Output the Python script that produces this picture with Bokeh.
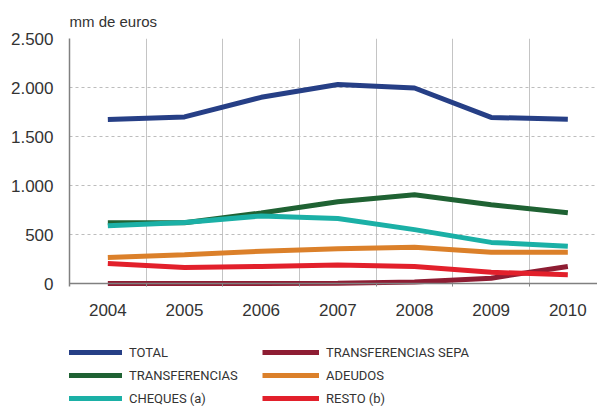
from bokeh.plotting import figure
from bokeh.layouts import column
from bokeh.models import (Range1d, FixedTicker, Legend, LegendItem, Span)
from bokeh.embed import file_html
from bokeh.resources import INLINE

years = [2004, 2005, 2006, 2007, 2008, 2009, 2010]
total = [1673, 1700, 1900, 2030, 1995, 1695, 1675]
transferencias = [620, 620, 720, 835, 905, 805, 722]
cheques = [590, 622, 690, 663, 550, 420, 380]
sepa = [0, 0, 0, 2, 15, 55, 175]
adeudos = [265, 295, 330, 355, 370, 320, 320]
resto = [205, 165, 175, 190, 175, 115, 90]
y_ticks = [0, 500, 1000, 1500, 2000, 2500]
y_tick_labels = ["0", "500", "1.000", "1.500", "2.000", "2.500"]
boundaries = [2004.5, 2005.5, 2006.5, 2007.5, 2008.5, 2009.5]

series = [
    ("TOTAL", total, "#263f86"),
    ("TRANSFERENCIAS", transferencias, "#1f6233"),
    ("CHEQUES (a)", cheques, "#1bb0a6"),
    ("TRANSFERENCIAS SEPA", sepa, "#8e1d33"),
    ("ADEUDOS", adeudos, "#db802a"),
    ("RESTO (b)", resto, "#e2202b"),
]

FONT = "Liberation Sans"
LFONT = "Roboto"

p = figure(width=597, height=340, output_backend="svg", toolbar_location=None,
           x_range=Range1d(2003.5, 2010.387), y_range=Range1d(-30, 2500),
           min_border_left=69, min_border_right=0, min_border_top=38,
           min_border_bottom=54,
           title="mm de euros")
p.outline_line_color = None
p.background_fill_color = "white"
p.border_fill_color = "white"

p.title.align = "left"
p.title.text_font = FONT
p.title.text_font_size = "15px"
p.title.text_font_style = "normal"
p.title.text_color = "#333333"
p.title.standoff = 17
p.title.offset = 0

# x axis
xa = p.xaxis[0]
xa.ticker = FixedTicker(ticks=years, minor_ticks=boundaries)
xa.axis_line_color = None
xa.major_tick_line_color = None
xa.minor_tick_line_color = "#888888"
xa.minor_tick_in = 3
xa.minor_tick_out = 0
xa.major_label_standoff = 11
xa.major_label_text_font = FONT
xa.major_label_text_font_size = "17px"
xa.major_label_text_color = "#333333"

# y axis
ya = p.yaxis[0]
ya.ticker = FixedTicker(ticks=y_ticks)
ya.major_label_overrides = {t: l for t, l in zip(y_ticks, y_tick_labels)}
ya.axis_line_color = "#808080"
ya.axis_line_width = 1.5
ya.major_tick_line_color = None
ya.minor_tick_line_color = None
ya.major_tick_out = 0
ya.major_tick_in = 0
ya.major_label_standoff = 16
ya.major_label_text_font = FONT
ya.major_label_text_font_size = "17px"
ya.major_label_text_color = "#333333"

# grids
p.xgrid.ticker = FixedTicker(ticks=boundaries)
p.xgrid.grid_line_color = "#c4c4c4"
p.xgrid.grid_line_width = 1
p.ygrid.ticker = FixedTicker(ticks=[500, 1000, 1500, 2000, 2500])
p.ygrid.grid_line_color = "#bdbdbd"
p.ygrid.grid_line_dash = "3 3"
p.ygrid.grid_line_width = 1

p.add_layout(Span(location=0, dimension="width", line_color="#808080", line_width=1.5))

for name, vals, color in series:
    p.line(years, vals, line_color=color, line_width=5)

# legend figure (swatches only; no visible data)
lf = figure(width=597, height=66, output_backend="svg", toolbar_location=None,
            x_range=Range1d(0, 597), y_range=Range1d(0, 66),
            x_axis_location=None, y_axis_location=None,
            min_border=0, min_border_left=0, min_border_right=0,
            min_border_top=0, min_border_bottom=0)
lf.grid.visible = False
lf.outline_line_color = None
lf.border_fill_color = "white"

nan = float("nan")
swatch = {}
for name, vals, color in series:
    swatch[name] = lf.line([nan], [nan], line_color=color, line_width=5)

def make_legend(names, x):
    lg = Legend(items=[LegendItem(label=n, renderers=[swatch[n]]) for n in names],
                location=(x, 0), orientation="vertical",
                glyph_width=57, glyph_height=16, label_height=16, label_width=10,
                label_standoff=7, spacing=7, padding=0, margin=0,
                border_line_color=None, background_fill_alpha=0,
                label_text_font=LFONT, label_text_font_size="13px",
                label_text_color="#333333")
    lf.add_layout(lg, "center")

make_legend(["TOTAL", "TRANSFERENCIAS", "CHEQUES (a)"], -4)
make_legend(["TRANSFERENCIAS SEPA", "ADEUDOS", "RESTO (b)"], 193)

layout = column(p, lf, spacing=0)
open("out.html", "w").write(file_html(layout, INLINE))
